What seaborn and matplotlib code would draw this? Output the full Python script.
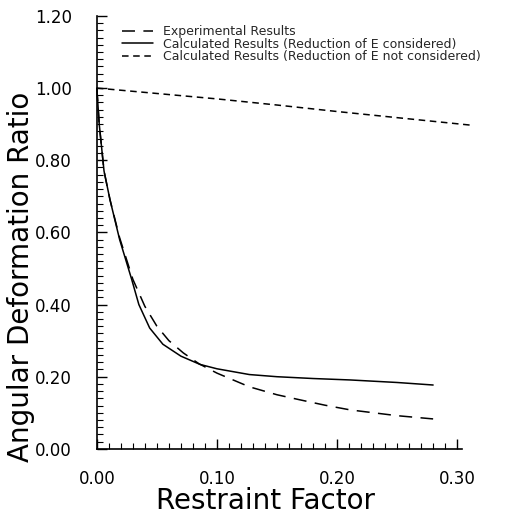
import numpy as np
import pandas as pd
import seaborn as sns
import matplotlib
matplotlib.use("Agg")
import matplotlib.pyplot as plt
from matplotlib.ticker import MultipleLocator, FormatStrFormatter

sns.set_theme(style="ticks")
plt.rcParams['font.family'] = ['DejaVu Sans']

# experimental results
exp_x = [0.0, 0.002, 0.006, 0.011, 0.019, 0.030, 0.040, 0.050, 0.060, 0.072, 0.085,
         0.100, 0.127, 0.150, 0.169, 0.190, 0.211, 0.250, 0.280]
exp_y = [1.00, 0.90, 0.77, 0.69, 0.585, 0.47, 0.395, 0.34, 0.30, 0.266, 0.236,
         0.210, 0.172, 0.150, 0.136, 0.121, 0.108, 0.092, 0.083]

# calculated, reduction of E considered
red_x = [0.0, 0.002, 0.006, 0.011, 0.019, 0.029, 0.035, 0.044, 0.055, 0.070, 0.086,
         0.100, 0.127, 0.150, 0.180, 0.211, 0.250, 0.280]
red_y = [1.00, 0.90, 0.77, 0.69, 0.58, 0.47, 0.40, 0.335, 0.29, 0.257, 0.234,
         0.222, 0.206, 0.200, 0.195, 0.191, 0.184, 0.177]

# calculated, reduction of E not considered
nored_x = [0.0, 0.05, 0.10, 0.15, 0.20, 0.25, 0.312]
nored_y = [1.00, 0.985, 0.970, 0.953, 0.935, 0.918, 0.897]

labels = ["Experimental Results",
          "Calculated Results (Reduction of E considered)",
          "Calculated Results (Reduction of E not considered)"]

df = pd.concat([
    pd.DataFrame({"x": exp_x, "y": exp_y, "series": labels[0]}),
    pd.DataFrame({"x": red_x, "y": red_y, "series": labels[1]}),
    pd.DataFrame({"x": nored_x, "y": nored_y, "series": labels[2]}),
])

fig = plt.figure(figsize=(5.15, 5.13), dpi=100)
ax = fig.add_axes([0.188, 0.125, 0.709, 0.844])

sns.lineplot(data=df, x="x", y="y", style="series", style_order=labels,
             dashes={labels[0]: (8.5, 5.5), labels[1]: "", labels[2]: (4.3, 3.0)},
             color="black", linewidth=1.1, sort=False, estimator=None, ax=ax)
for ln in ax.lines:
    ln.set_clip_on(False)

ax.set_xlim(0, 0.304)
ax.set_ylim(0, 1.2)
ax.xaxis.set_major_locator(MultipleLocator(0.1))
ax.xaxis.set_minor_locator(MultipleLocator(0.01))
ax.yaxis.set_major_locator(MultipleLocator(0.2))
ax.yaxis.set_minor_locator(MultipleLocator(0.02))
ax.xaxis.set_major_formatter(FormatStrFormatter("%.2f"))
ax.yaxis.set_major_formatter(FormatStrFormatter("%.2f"))
ax.tick_params(which="both", direction="in", color="black", labelsize=12, labelcolor="black")
ax.tick_params(which="major", length=7, width=1.0)
ax.tick_params(which="minor", length=4, width=0.8)
ax.tick_params(axis="y", which="major", pad=18)
ax.tick_params(axis="x", which="major", pad=15)

for side in ["top", "right"]:
    ax.spines[side].set_visible(False)
for side in ["left", "bottom"]:
    ax.spines[side].set_color("black")
    ax.spines[side].set_linewidth(1.2)

ax.set_xlabel("Restraint Factor", fontsize=20, color="black")
ax.set_ylabel("Angular Deformation Ratio", fontsize=20, color="black")
ax.xaxis.set_label_coords(0.463, -0.087)
ax.yaxis.set_label_coords(-0.17, 0.397)

handles, _ = ax.get_legend_handles_labels()
ax.legend(handles, labels, loc="upper left", bbox_to_anchor=(0.055, 0.99),
          frameon=False, fontsize=9, handlelength=2.5, handletextpad=0.8,
          labelspacing=-0.05, borderaxespad=0)

fig.savefig("out.png", dpi=100)
